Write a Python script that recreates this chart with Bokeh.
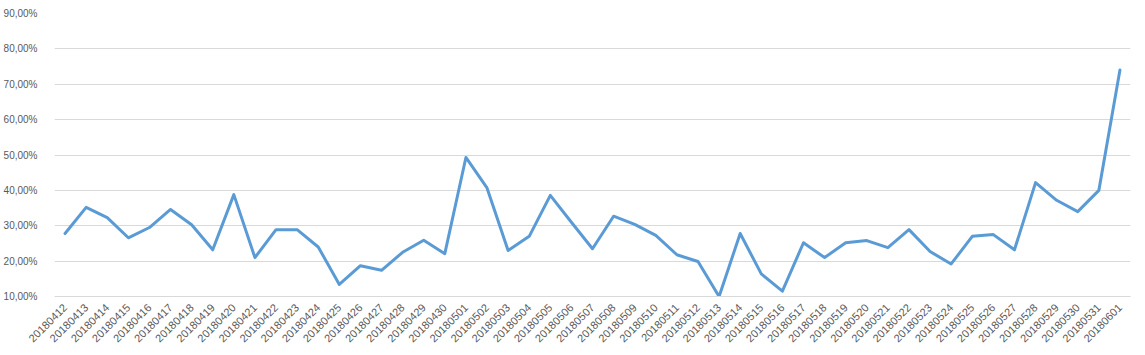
from bokeh.plotting import figure
from bokeh.models import FactorRange, Range1d, FixedTicker
from bokeh.embed import file_html
from bokeh.resources import INLINE
import math

dates = [
    "20180412", "20180413", "20180414", "20180415", "20180416", "20180417", "20180418",
    "20180419", "20180420", "20180421", "20180422", "20180423", "20180424", "20180425",
    "20180426", "20180427", "20180428", "20180429", "20180430", "20180501", "20180502",
    "20180503", "20180504", "20180505", "20180506", "20180507", "20180508", "20180509",
    "20180510", "20180511", "20180512", "20180513", "20180514", "20180515", "20180516",
    "20180517", "20180518", "20180519", "20180520", "20180521", "20180522", "20180523",
    "20180524", "20180525", "20180526", "20180527", "20180528", "20180529", "20180530",
    "20180531", "20180601",
]
rate_pct = [
    27.8, 35.2, 32.3, 26.6, 29.5, 34.6, 30.3,
    23.2, 38.8, 21.0, 28.9, 28.9, 24.0, 13.4,
    18.7, 17.4, 22.5, 25.9, 22.1, 49.3, 40.7,
    23.0, 27.0, 38.6, 31.0, 23.5, 32.7, 30.4,
    27.3, 21.8, 19.9, 10.0, 27.8, 16.4, 11.5,
    25.2, 21.0, 25.2, 25.8, 23.8, 28.9, 22.7,
    19.2, 27.0, 27.5, 23.2, 42.2, 37.2, 34.0,
    40.0, 74.0,
]
y_ticks = [10, 20, 30, 40, 50, 60, 70, 80, 90]
y_tick_labels = ["10,00%", "20,00%", "30,00%", "40,00%", "50,00%",
                 "60,00%", "70,00%", "80,00%", "90,00%"]

p = figure(
    width=1145, height=355,
    x_range=FactorRange(*dates, range_padding=0),
    y_range=Range1d(10, 90),
    output_backend="svg", toolbar_location=None,
    min_border_left=52, min_border_right=15, min_border_top=13, min_border_bottom=59,
)
p.outline_line_color = None
p.background_fill_color = "white"
p.border_fill_color = "white"

p.line(x=dates, y=rate_pct, line_color="#5b9bd5", line_width=3,
       line_join="round", line_cap="round")

text_color = "#595959"
p.yaxis.ticker = FixedTicker(ticks=y_ticks)
p.yaxis.major_label_overrides = {t: l for t, l in zip(y_ticks, y_tick_labels)}
p.yaxis.axis_line_color = None
p.yaxis.major_tick_line_color = None
p.yaxis.minor_tick_line_color = None
p.yaxis.major_label_text_font = "Liberation Sans"
p.yaxis.major_label_text_font_size = "10px"
p.yaxis.major_label_text_color = text_color
p.yaxis.major_label_standoff = 11

p.xaxis.axis_line_color = "#d9d9d9"
p.xaxis.major_tick_line_color = None
p.xaxis.minor_tick_line_color = None
p.xaxis.major_label_orientation = math.pi / 4
p.xaxis.major_label_text_font = "Liberation Sans"
p.xaxis.major_label_text_font_size = "11px"
p.xaxis.major_label_text_color = text_color
p.xaxis.major_label_standoff = 3

p.xgrid.grid_line_color = None
p.ygrid.grid_line_color = "#d9d9d9"
p.ygrid.grid_line_width = 1

open("out.html", "w").write(file_html(p, INLINE))
